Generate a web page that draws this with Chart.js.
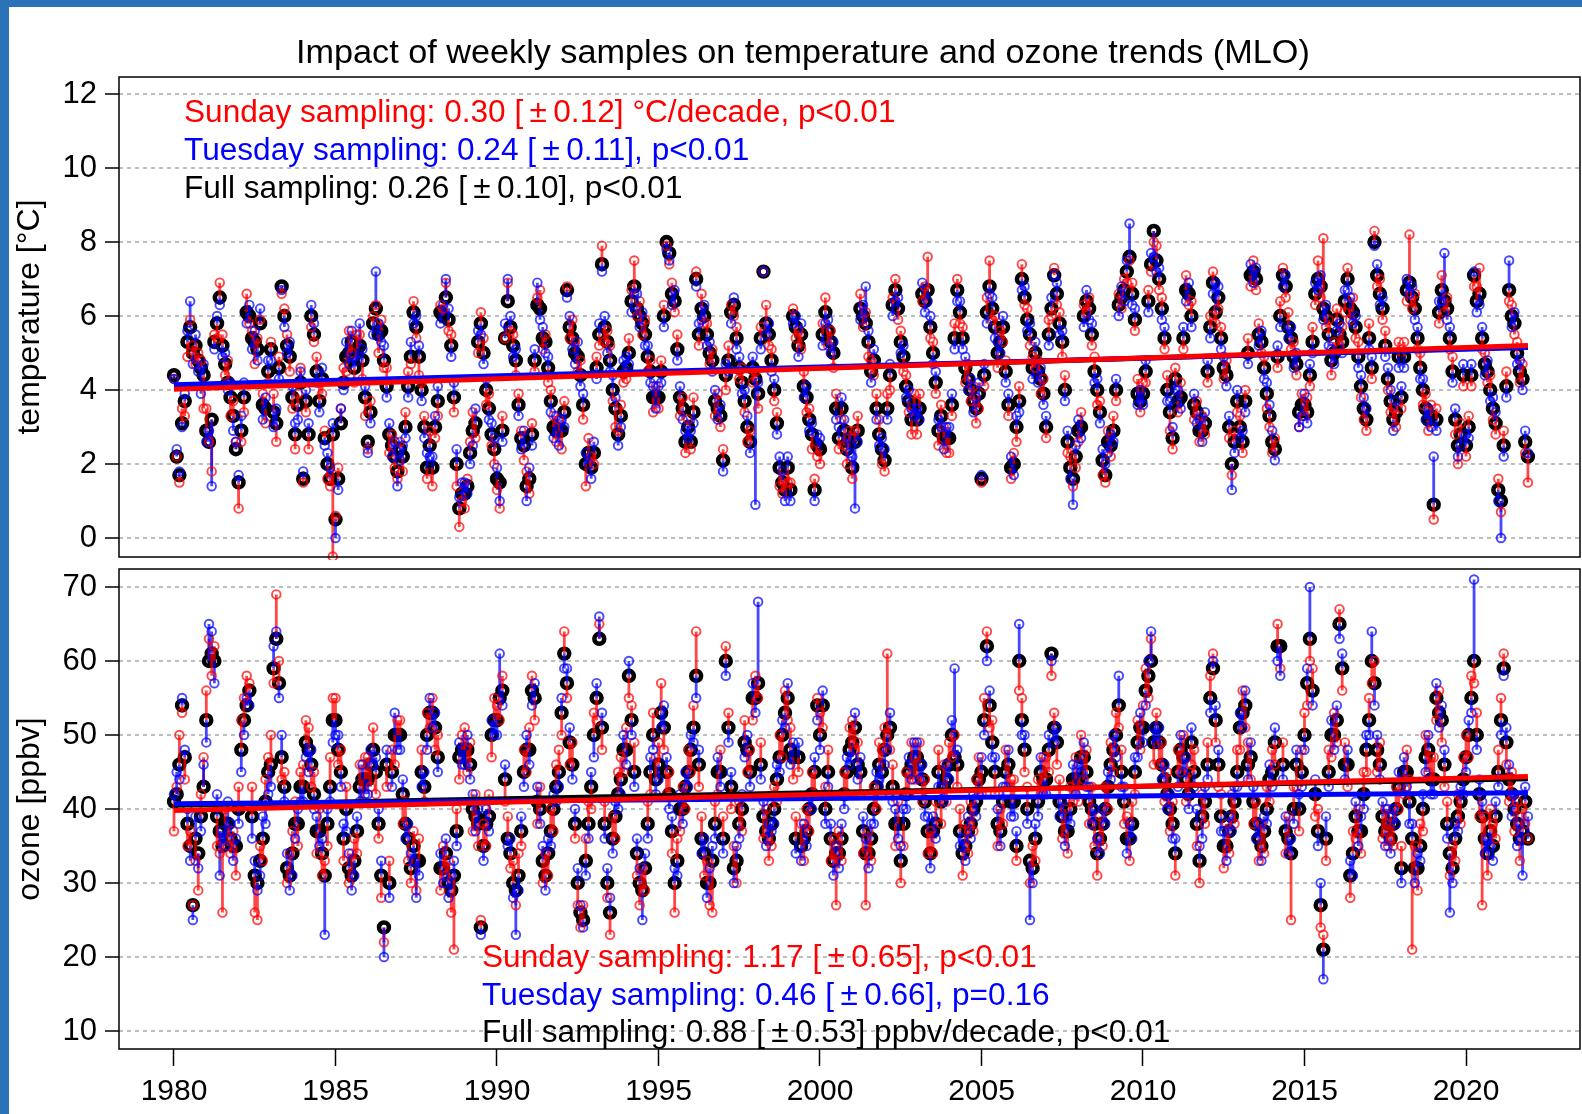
<!DOCTYPE html>
<html>
<head>
<meta charset="utf-8">
<script src="https://cdn.jsdelivr.net/npm/chart.js@4.4.0/dist/chart.umd.min.js"></script>
<style>
  body { margin: 0; background: #fff; font-family: "Liberation Sans", Arial, sans-serif; }
  #wrap { position: relative; width: 1582px; height: 1114px; overflow: hidden; background: #fff; }
  canvas { position: absolute; left: 0; }
  .bar { position: absolute; background: #2a73b9; z-index: 5; }
  .title { position: absolute; left: 296px; top: 35px; font-size: 33px; line-height: 33px; white-space: nowrap; color: #000;
           transform: scaleX(1.037); transform-origin: left top; }
  .note { position: absolute; font-size: 31px; line-height: 31px; white-space: nowrap;
          transform: scaleX(1.02); transform-origin: left top; }
</style>
</head>
<body>
<div id="wrap">
  <canvas id="cTemp" width="1582" height="560" style="top:0"></canvas>
  <canvas id="cOzone" width="1582" height="554" style="top:560px"></canvas>
  <div class="bar" style="left:0;top:0;width:1582px;height:7px"></div>
  <div class="bar" style="left:0;top:0;width:9px;height:1114px"></div>
  <div class="title">Impact of weekly samples on temperature and ozone trends (MLO)</div>
  <div class="note" style="left:184px;top:96px;color:#ff0000">Sunday sampling: 0.30 [&#8201;±&#8201;0.12] °C/decade, p&lt;0.01</div>
  <div class="note" style="left:184px;top:134px;color:#0000ff">Tuesday sampling: 0.24 [&#8201;±&#8201;0.11], p&lt;0.01</div>
  <div class="note" style="left:184px;top:172px;color:#000">Full sampling: 0.26 [&#8201;±&#8201;0.10], p&lt;0.01</div>
  <div class="note" style="left:482px;top:941px;color:#ff0000">Sunday sampling: 1.17 [&#8201;±&#8201;0.65], p&lt;0.01</div>
  <div class="note" style="left:482px;top:979px;color:#0000ff">Tuesday sampling: 0.46 [&#8201;±&#8201;0.66], p=0.16</div>
  <div class="note" style="left:482px;top:1016px;color:#000">Full sampling: 0.88 [&#8201;±&#8201;0.53] ppbv/decade, p&lt;0.01</div>
</div>
<script>
// monthly series, Jan 1980 .. Dec 2021 (one row per year)
const startYear = 1980;
const yearTicks = [1980, 1985, 1990, 1995, 2000, 2005, 2010, 2015, 2020];
const tempTicks = [0, 2, 4, 6, 8, 10, 12];
const ozoneTicks = [10, 20, 30, 40, 50, 60, 70];

// temperature [°C], full sampling
const tempFull = [
  4.4,2.2,1.7,3.1,3.7,5.3,5.7,5.0,5.2,4.8,4.6,4.4,
  2.9,2.6,3.2,5.3,5.8,6.5,5.2,4.7,4.2,3.8,3.3,2.4,
  1.5,2.9,3.8,6.1,6.0,5.4,5.3,5.1,5.8,3.6,3.5,4.5,
  5.1,3.4,3.1,4.6,6.8,6.0,5.2,4.9,3.8,2.8,3.6,4.2,
  1.6,3.7,2.8,6.0,5.5,4.5,3.7,4.3,2.7,2.0,1.6,2.8,
  0.5,1.6,3.1,4.2,4.9,5.0,5.3,4.6,5.1,5.2,4.8,3.8,
  2.6,3.4,5.8,6.2,5.5,5.6,4.8,4.1,2.8,2.5,2.2,1.8,
  2.4,2.2,3.0,4.1,4.9,6.1,5.7,4.9,4.0,3.0,1.9,2.5,
  1.9,3.0,3.7,6.1,6.0,6.5,5.9,5.2,3.8,2.0,0.8,1.2,
  1.2,1.4,2.3,2.9,3.1,5.3,5.8,5.0,4.0,3.5,2.8,2.4,
  1.6,1.5,2.9,5.4,6.4,5.7,5.2,4.8,3.6,2.7,2.5,1.4,
  1.6,2.8,4.8,6.3,6.2,5.4,5.3,4.6,3.7,3.0,2.9,2.9,
  2.9,3.4,6.7,5.7,5.4,5.0,4.9,4.4,3.6,2.0,2.3,1.9,
  2.3,4.6,5.5,7.4,5.7,5.3,4.8,4.0,3.5,2.8,3.3,4.5,
  4.6,5.0,6.4,6.8,6.2,6.0,5.8,5.5,4.9,4.5,3.8,3.8,
  3.8,4.5,6.0,8.0,7.7,6.6,6.4,5.1,3.8,3.5,2.6,3.0,
  2.6,3.4,7.0,5.5,6.2,6.0,5.5,5.0,4.8,3.7,3.5,3.3,
  2.1,4.4,4.8,6.1,6.3,5.4,4.6,4.2,3.7,3.0,2.6,4.6,
  4.3,3.9,5.4,7.2,5.8,5.5,4.8,4.0,3.1,1.9,1.5,1.3,
  1.9,1.3,6.0,5.7,5.2,5.5,4.1,3.8,3.2,2.8,1.3,2.5,
  2.4,5.5,6.1,5.6,5.3,5.0,3.5,2.7,3.5,2.9,2.4,2.6,
  1.9,2.6,2.9,6.2,6.0,5.8,5.3,4.5,4.8,3.5,2.8,2.4,
  2.1,3.5,4.4,6.3,6.7,6.2,5.3,4.9,4.1,3.7,3.2,3.6,
  3.2,3.5,6.6,6.4,6.7,5.7,5.0,4.2,2.9,3.3,2.7,2.7,
  2.7,3.6,5.4,6.7,6.1,5.4,4.6,4.3,4.0,3.7,3.5,3.9,
  1.6,4.4,6.1,6.8,6.2,5.7,5.0,5.3,5.7,4.5,3.6,1.9,
  2.0,3.0,3.7,7.0,6.5,5.9,5.5,4.6,5.0,4.5,4.3,3.9,
  3.0,5.5,6.2,7.1,6.6,5.8,5.3,4.0,2.6,1.9,1.6,2.2,
  2.9,3.0,6.0,6.4,6.2,5.5,4.5,4.0,3.4,2.1,1.7,2.6,
  2.5,2.9,4.0,6.3,6.5,6.7,7.2,7.6,6.6,5.9,3.9,3.7,
  3.9,4.5,6.4,7.4,8.3,7.5,7.0,6.2,5.4,4.0,3.4,2.7,
  4.3,3.7,3.8,5.4,6.7,6.6,6.0,3.6,3.4,2.9,2.9,3.1,
  4.5,5.7,6.9,6.1,6.5,5.4,4.6,4.4,3.0,2.0,2.6,3.7,
  3.0,2.6,3.7,5.0,7.1,7.2,7.0,5.5,5.3,4.6,3.9,3.3,
  2.6,2.4,4.9,6.0,7.1,6.8,5.7,5.4,4.9,4.7,3.4,3.6,
  3.6,3.4,4.4,5.3,6.6,7.0,6.8,6.2,6.0,5.5,4.8,5.0,
  5.9,5.5,5.3,6.4,7.0,6.2,6.1,5.7,4.9,4.1,3.5,3.2,
  5.4,4.6,8.0,7.1,6.6,6.2,5.2,4.3,3.7,3.2,3.4,4.9,
  3.8,4.9,6.7,6.9,6.5,6.2,5.4,4.6,4.0,3.5,3.2,3.3,
  0.9,3.2,6.1,6.7,6.4,6.2,5.4,4.5,3.2,2.5,2.8,4.4,
  2.5,3.0,4.4,7.1,6.4,6.6,5.4,4.7,4.5,4.0,3.5,3.1,
  1.3,1.0,2.5,4.1,6.7,6.0,5.8,5.0,4.5,4.3,2.6,2.2
];
// temperature, Sunday samples
const tempSunday = [
  4.3,2.2,1.5,3.5,3.3,4.9,5.9,5.2,4.7,5.0,4.8,3.5,
  3.5,2.6,1.8,5.5,5.4,6.9,5.5,4.4,4.8,3.3,3.7,2.6,
  0.8,2.6,3.4,6.6,5.8,5.6,4.7,5.4,5.9,3.9,3.1,4.2,
  5.3,3.9,2.6,4.9,6.6,6.2,5.5,4.5,3.5,2.4,3.9,4.6,
  1.5,3.4,2.4,5.7,5.3,4.9,4.2,3.9,2.9,1.6,1.4,-0.5,
  0.6,1.9,3.5,4.6,4.5,5.6,5.0,4.2,5.5,5.5,4.3,3.3,
  2.4,3.7,6.0,6.3,5.0,5.9,4.6,4.6,2.3,2.8,1.9,1.6,
  2.6,1.8,3.4,4.5,4.7,6.4,5.4,4.4,4.2,3.3,1.6,2.9,
  1.4,2.7,3.3,6.3,6.2,6.9,5.6,5.5,3.4,1.4,0.3,1.0,
  0.8,1.6,2.6,3.4,2.7,5.0,6.1,5.4,3.6,3.9,2.5,2.0,
  1.3,0.8,3.3,5.4,6.9,5.6,5.5,4.4,3.9,2.9,2.1,1.8,
  1.2,3.1,4.5,6.5,6.7,5.1,5.5,4.2,4.0,3.3,2.6,3.2,
  2.4,3.7,6.8,5.4,5.9,5.3,4.5,4.8,3.2,1.4,2.7,2.2,
  2.0,4.9,5.2,7.9,5.3,5.6,5.2,3.7,3.0,2.9,3.6,4.2,
  4.3,5.4,6.7,7.5,6.0,6.4,5.5,5.9,4.5,4.8,3.4,4.1,
  3.5,4.8,6.3,7.9,7.4,6.9,6.1,5.5,3.3,3.8,2.3,3.2,
  2.4,3.8,7.2,5.2,6.6,5.8,5.8,4.7,5.1,3.3,3.9,3.0,
  2.4,4.0,5.2,6.3,6.0,5.7,4.3,4.6,3.4,2.6,2.9,4.2,
  4.5,3.5,5.7,7.2,6.3,5.2,5.1,3.7,3.4,1.4,1.2,1.6,
  1.5,1.5,6.2,5.4,5.6,5.1,4.5,3.4,3.5,2.4,1.6,2.2,
  2.0,5.8,6.5,5.2,5.6,4.6,3.9,2.4,3.2,2.5,2.0,2.9,
  1.6,2.9,3.3,6.6,5.7,6.1,4.9,4.8,4.4,3.9,3.2,2.0,
  1.8,3.9,4.0,6.5,7.0,5.9,5.6,4.5,4.4,3.4,2.8,3.9,
  2.8,3.9,6.4,6.8,7.6,5.4,5.3,3.9,2.5,3.6,3.0,2.3,
  2.3,3.3,5.8,7.0,5.8,5.7,4.2,4.7,3.7,4.1,3.1,3.5,
  1.5,4.1,6.5,7.5,5.9,6.0,4.6,5.6,5.3,4.8,3.3,1.6,
  2.3,2.6,4.1,7.4,6.3,6.2,5.2,4.9,4.6,4.8,3.9,4.3,
  2.7,5.9,6.0,7.3,6.3,6.1,4.9,4.4,2.3,2.2,1.4,1.9,
  2.6,3.4,6.3,6.1,6.5,5.2,4.9,3.6,3.7,1.7,1.5,2.9,
  2.2,3.3,3.7,6.6,6.2,7.0,6.9,7.5,6.9,5.6,4.3,3.4,
  4.2,4.2,6.7,7.2,8.0,7.9,6.7,6.5,5.1,4.4,2.9,2.4,
  4.6,3.4,4.2,5.1,7.1,6.3,6.4,3.2,3.7,2.6,3.3,2.8,
  4.2,6.0,7.2,5.8,6.2,5.7,4.3,4.8,2.7,1.7,2.9,3.4,
  3.3,2.3,4.0,5.4,6.8,7.5,6.7,5.8,5.0,4.9,3.5,3.0,
  2.3,2.7,4.6,6.4,7.3,6.5,6.1,5.1,5.3,4.4,3.0,3.9,
  3.3,3.8,4.1,5.7,6.3,7.5,6.5,8.1,5.7,5.9,4.4,5.3,
  6.2,5.2,5.7,6.1,7.3,5.9,6.5,5.4,5.3,3.8,3.2,2.9,
  5.8,4.3,8.3,6.8,7.0,5.9,5.6,4.0,3.4,3.5,3.0,5.3,
  3.5,5.3,6.4,8.2,6.2,6.6,5.1,5.0,3.6,3.9,2.9,3.6,
  0.5,3.5,5.8,7.1,6.1,6.5,5.1,4.9,2.8,2.0,3.1,4.1,
  2.2,3.3,4.1,6.8,6.8,7.3,5.1,5.0,4.2,4.4,3.2,2.8,
  1.6,0.7,2.9,4.5,6.4,6.3,5.5,5.3,4.2,4.7,2.3,1.5
];
// temperature, Tuesday samples
const tempTuesday = [
  4.3,2.4,1.8,3.0,3.9,5.6,6.4,4.7,5.5,4.5,3.9,4.7,
  2.6,2.9,1.4,5.1,6.0,6.3,4.9,5.0,4.0,4.2,2.9,2.6,
  1.7,3.3,4.2,5.8,6.3,5.1,5.6,4.8,6.2,3.2,3.8,4.8,
  4.8,3.0,3.5,4.3,6.7,5.7,5.0,5.3,4.1,3.1,3.2,4.5,
  1.8,4.0,3.1,6.3,5.8,4.2,3.4,4.6,2.5,2.3,1.9,3.1,
  0.0,1.3,3.5,4.0,5.3,4.7,5.6,4.9,4.8,5.8,5.1,4.1,
  2.3,3.1,5.5,7.2,5.8,5.3,5.2,3.8,3.1,2.2,2.6,1.4,
  2.1,2.5,2.7,3.8,5.3,5.8,6.0,5.2,3.7,2.7,2.3,2.2,
  2.2,3.3,4.1,5.8,6.3,7.0,6.2,4.9,4.2,2.4,1.1,1.5,
  1.5,1.2,2.0,2.5,3.5,5.6,5.5,4.7,4.3,3.2,3.1,2.7,
  1.9,1.0,2.6,5.8,7.0,6.0,4.9,5.1,3.3,2.4,2.9,1.0,
  1.9,2.5,5.1,6.9,5.9,5.7,5.0,4.9,3.4,2.7,3.3,2.5,
  3.2,3.0,6.5,6.0,5.1,4.7,5.3,4.1,3.9,2.3,2.0,1.6,
  2.6,4.3,5.8,7.2,6.0,5.0,4.5,4.4,3.8,2.5,3.0,4.8,
  4.9,4.7,6.1,6.6,6.6,5.7,6.1,5.2,5.2,4.2,4.1,3.5,
  4.1,4.2,5.7,7.8,7.5,6.3,6.7,4.8,4.1,3.2,2.9,2.7,
  2.9,3.1,6.8,5.8,5.9,6.3,5.2,5.3,4.5,4.0,3.2,3.6,
  1.8,4.7,4.5,5.8,6.5,5.1,4.9,3.9,4.0,3.3,2.3,4.9,
  0.9,4.2,5.1,7.2,5.5,5.8,4.5,4.3,2.8,2.2,1.8,1.0,
  2.2,1.0,5.8,6.0,4.9,5.8,3.8,4.1,2.9,3.1,1.0,2.8,
  2.7,5.2,5.8,5.9,5.0,5.3,3.2,3.0,3.8,3.2,2.7,2.3,
  2.2,0.8,2.6,5.9,6.3,6.8,5.6,4.2,5.1,3.2,2.5,2.7,
  2.4,3.2,4.7,6.0,6.4,6.5,5.0,5.2,3.8,4.0,3.5,3.3,
  3.5,3.2,6.9,6.1,6.4,6.0,4.7,4.5,3.2,3.0,2.4,3.0,
  3.0,3.9,5.1,6.4,6.4,5.1,4.9,4.0,4.3,3.4,3.8,4.2,
  1.7,4.7,5.8,6.6,6.5,5.4,5.3,5.0,6.0,4.2,3.9,2.2,
  1.7,3.3,3.4,6.7,6.8,5.6,5.8,4.3,5.3,4.2,4.6,3.6,
  3.3,5.2,6.5,7.1,6.9,5.5,5.6,3.7,2.9,1.6,0.9,2.5,
  3.2,2.7,5.7,6.7,5.9,5.8,4.2,4.3,3.1,2.4,2.0,2.3,
  2.8,2.6,4.3,6.0,6.8,6.4,7.5,8.5,6.3,6.2,3.6,4.0,
  3.6,4.8,6.1,7.7,7.6,7.2,7.3,5.9,5.7,3.7,3.7,3.0,
  4.0,4.0,3.5,5.7,6.4,6.9,5.7,3.9,3.1,3.2,2.6,3.4,
  4.8,5.4,6.6,6.9,6.8,5.1,4.9,4.1,3.3,1.3,2.3,4.0,
  2.7,2.9,3.4,4.7,7.4,6.9,7.3,5.2,5.6,4.3,4.2,3.6,
  2.9,2.1,5.2,5.7,6.8,7.1,5.4,5.7,4.6,5.0,3.0,3.3,
  3.9,3.1,4.7,5.0,6.9,6.7,7.1,5.9,6.3,5.2,5.1,4.7,
  5.6,5.8,5.0,6.7,6.7,6.5,5.8,6.0,4.6,4.4,3.8,3.5,
  5.1,4.9,7.9,7.4,6.3,6.5,4.9,4.6,4.0,2.9,3.7,4.6,
  4.1,4.6,7.0,6.6,6.8,5.9,5.7,4.3,4.3,3.2,3.5,3.0,
  2.2,2.9,6.4,6.4,7.7,5.9,5.7,4.2,3.5,2.2,2.5,4.7,
  2.8,2.7,4.7,7.2,6.1,6.3,5.7,4.4,4.8,3.7,3.8,3.4,
  1.0,0.0,2.2,3.8,7.5,5.7,6.1,4.7,4.8,4.0,2.9,2.3
];

// ozone [ppbv], full sampling
const ozoneFull = [
  41,42,46,54,47,38,35,27,36,34,39,43,
  52,60,61,60,39,37,35,38,38,36,35,35,
  40,48,52,54,56,39,31,30,33,36,41,45,
  46,59,63,57,47,43,32,31,34,38,38,43,
  43,49,48,46,42,37,37,34,31,38,43,52,
  52,48,45,36,40,32,31,33,37,43,44,44,
  44,46,48,45,38,31,24,46,30,45,50,50,
  50,42,38,36,32,35,33,33,45,43,50,53,
  53,51,47,32,32,34,30,29,31,37,47,48,
  48,48,46,40,39,38,24,35,38,39,50,52,
  52,55,56,44,36,34,30,29,31,37,45,48,
  48,56,55,41,40,33,31,34,37,40,43,45,
  53,61,57,49,46,38,30,26,25,33,38,43,
  50,55,63,51,38,30,26,36,39,42,44,48,
  48,58,52,45,34,30,29,32,38,45,50,44,
  46,53,51,45,42,37,30,33,40,40,43,45,
  48,51,58,46,36,34,30,30,33,38,45,45,
  36,60,51,43,32,33,38,40,49,48,45,55,
  55,57,46,39,37,36,38,40,44,47,50,53,
  55,48,47,36,47,35,36,37,40,42,45,54,
  50,54,40,45,36,33,34,34,36,42,45,48,
  49,51,46,45,37,34,34,36,40,43,46,45,
  48,50,51,43,38,38,33,38,42,45,46,47,
  47,46,44,41,37,34,37,38,45,41,43,44,
  46,50,47,46,37,34,35,37,38,40,41,44,
  45,52,62,54,49,45,38,37,41,45,46,41,
  41,35,60,52,48,40,33,32,36,41,45,44,
  44,48,61,51,49,41,39,37,37,40,44,44,
  44,47,47,45,41,40,38,34,36,38,40,43,
  46,48,50,54,45,41,36,36,38,45,49,51,
  51,56,58,60,49,51,49,46,44,42,40,38,
  34,45,48,47,44,42,49,45,38,33,39,41,
  46,55,59,52,46,39,35,35,37,39,41,45,
  51,53,54,46,47,41,38,36,35,37,40,44,
  45,49,62,62,46,37,36,34,40,46,40,45,
  50,57,63,56,42,37,27,21,36,45,50,50,
  52,65,59,46,46,31,34,39,37,37,42,48,
  52,60,57,48,46,39,37,38,36,38,40,43,
  32,45,45,41,36,32,32,35,40,47,48,44,
  44,55,53,52,46,38,34,32,36,39,41,44,
  47,50,55,60,50,42,39,36,34,37,35,39,
  45,52,59,49,44,42,40,38,36,37,41,36
];
// ozone, Sunday samples
const ozoneSunday = [
  37,43,50,53,44,35,37,27,33,29,42,47,
  56,63,58,62,35,34,26,40,35,34,37,31,
  43,52,55,58,57,43,26,25,35,33,44,47,
  50,57,69,60,44,45,30,34,37,41,35,45,
  46,52,51,43,45,34,40,31,33,35,47,55,
  55,46,48,33,43,30,34,36,34,46,41,47,
  47,43,51,42,36,28,22,43,33,48,46,52,
  52,38,41,33,30,37,29,36,48,41,53,51,
  55,48,50,29,35,31,33,26,21,40,44,50,
  51,45,49,37,42,35,25,38,35,42,47,55,
  54,52,58,41,39,32,33,27,34,35,48,45,
  51,58,52,38,43,30,34,31,40,37,46,48,
  50,64,55,46,49,36,27,24,27,36,41,40,
  53,52,65,48,41,28,23,39,36,45,47,45,
  51,55,54,49,31,27,32,29,41,42,53,47,
  49,57,48,42,45,34,26,36,37,43,40,48,
  45,54,64,43,39,31,33,27,26,41,42,48,
  39,62,53,40,35,30,41,37,52,45,48,52,
  58,55,49,36,40,33,35,43,41,50,47,56,
  52,51,44,39,45,38,33,40,37,45,42,55,
  53,51,43,48,33,36,27,37,33,45,42,51,
  52,48,49,42,34,27,37,33,43,40,49,48,
  51,61,48,46,35,41,30,35,45,42,49,44,
  44,49,41,44,34,37,34,41,48,38,46,41,
  49,47,50,43,40,31,38,34,41,37,44,47,
  42,55,64,51,52,42,35,40,38,48,43,44,
  44,33,56,55,45,43,30,35,33,44,42,47,
  47,45,58,53,46,44,36,40,34,43,41,47,
  41,50,44,48,38,43,35,31,39,35,43,40,
  49,45,53,51,48,38,39,33,41,42,52,48,
  54,59,55,63,46,53,46,49,41,45,37,41,
  31,48,45,50,41,45,46,48,35,30,42,38,
  49,58,61,49,43,42,32,38,34,42,38,48,
  48,56,51,49,44,38,41,33,38,34,43,41,
  48,46,65,59,49,34,39,25,43,43,37,48,
  53,54,60,59,39,40,24,23,33,48,47,53,
  49,67,56,49,43,28,37,36,40,34,45,45,
  55,57,60,45,49,36,40,35,39,35,43,40,
  35,42,48,44,21,35,29,38,37,50,45,47,
  47,52,56,49,43,41,31,35,33,42,38,47,
  50,47,58,57,53,39,27,39,31,40,38,36,
  48,55,61,46,41,45,37,41,33,40,38,36
];
// ozone, Tuesday samples
const ozoneTuesday = [
  42,45,44,55,48,40,33,25,39,32,37,46,
  49,65,64,57,42,31,37,35,41,38,33,36,
  38,45,50,55,54,36,33,29,31,39,38,42,
  43,62,64,55,50,41,34,29,31,36,40,41,
  41,47,45,48,40,39,35,36,23,40,41,49,
  50,50,43,38,37,34,29,31,39,41,46,42,
  42,48,46,47,40,33,20,48,28,43,53,48,
  48,44,36,38,34,33,28,31,43,45,48,55,
  51,53,45,34,30,36,28,31,33,35,49,46,
  46,50,44,42,37,40,23,33,40,37,52,50,
  50,61,54,46,35,36,28,23,29,39,43,50,
  46,54,57,43,38,35,29,36,35,42,41,43,
  55,59,59,51,44,40,32,27,24,31,36,45,
  47,57,66,53,36,32,28,34,41,40,42,50,
  46,60,50,43,36,32,25,34,36,47,48,42,
  44,51,54,47,40,39,32,31,42,38,45,43,
  50,49,55,48,34,36,28,32,35,36,47,43,
  34,58,49,45,30,35,36,42,47,50,43,57,
  53,68,44,41,35,38,37,38,46,45,52,51,
  57,46,49,34,49,33,38,35,42,40,47,52,
  48,56,38,43,38,31,35,32,38,40,47,46,
  47,53,44,47,39,36,32,38,38,45,44,42,
  46,48,53,41,40,36,35,40,40,47,44,49,
  49,44,46,39,39,32,39,36,43,43,41,46,
  44,52,59,48,35,36,33,39,36,42,39,42,
  47,50,60,56,47,47,40,35,43,43,48,39,
  39,37,65,50,50,38,25,30,38,39,47,42,
  42,50,60,49,51,39,41,35,39,38,46,42,
  46,45,49,43,43,38,40,36,34,40,38,45,
  44,50,47,58,43,43,34,38,36,47,47,53,
  49,54,60,64,51,49,51,44,46,40,42,36,
  36,43,50,45,47,40,51,43,40,35,36,43,
  44,53,60,54,48,37,37,33,39,37,43,43,
  53,51,56,44,49,43,36,38,33,39,38,46,
  43,51,60,58,44,39,34,36,38,48,42,43,
  48,59,70,54,44,35,30,17,39,43,52,48,
  54,63,61,44,48,33,31,41,35,39,40,50,
  50,64,54,50,44,41,35,40,34,40,38,45,
  30,47,43,38,38,30,34,33,42,45,50,42,
  42,57,51,54,48,36,26,30,38,37,43,42,
  45,52,53,71,48,44,41,34,36,35,33,41,
  43,50,58,51,46,39,42,35,38,31,43,39
];

// fitted trend lines: value at first and last month
const trendEnds = [1980, 2021.917];
const tempTrendFull = [4.08, 5.17];
const tempTrendSunday = [4.02, 5.20];
const tempTrendTuesday = [4.14, 5.15];
const ozoneTrendFull = [40.5, 44.1];
const ozoneTrendSunday = [39.8, 44.4];
const ozoneTrendTuesday = [40.7, 42.2];

const monthX = tempFull.map((v, i) => startYear + i / 12);

Chart.defaults.font.family = "'Liberation Sans', Arial, sans-serif";
Chart.defaults.color = "#000";

const RED = "rgba(255,0,0,0.72)";
const BLUE = "rgba(0,0,255,0.72)";

// box round the plot area
const frame = {
  id: "frame",
  afterDraw(chart) {
    const a = chart.chartArea;
    const c = chart.ctx;
    c.save();
    c.strokeStyle = "#000";
    c.lineWidth = 1.5;
    c.strokeRect(a.left, a.top, a.right - a.left, a.bottom - a.top);
    c.restore();
  }
};

function points(arr) {
  return arr.map((v, i) => ({ x: monthX[i], y: v }));
}

function sticks(full, other) {
  const d = [];
  for (let i = 0; i < full.length; i++) {
    d.push({ x: monthX[i], y: full[i] }, { x: monthX[i], y: other[i] }, { x: monthX[i], y: null });
  }
  return d;
}

function trend(ends, color, order) {
  return {
    data: [{ x: trendEnds[0], y: ends[0] }, { x: trendEnds[1], y: ends[1] }],
    borderColor: color, borderWidth: 5, pointRadius: 0, order: order, borderCapStyle: "butt"
  };
}

function panelData(full, sun, tue, trFull, trSun, trTue) {
  return {
    datasets: [
      { data: points(full), showLine: false, pointRadius: 4.9, pointBorderWidth: 4.6,
        pointBorderColor: "#000", pointBackgroundColor: "rgba(0,0,0,0)", order: 9, clip: false },
      { data: sticks(full, sun), borderColor: RED, borderWidth: 2.8, pointRadius: 0, order: 8, clip: false },
      { data: sticks(full, tue), borderColor: BLUE, borderWidth: 2.8, pointRadius: 0, order: 7, clip: false },
      { data: points(sun), showLine: false, pointRadius: 4.3, pointBorderWidth: 1.9,
        pointBorderColor: RED, pointBackgroundColor: "rgba(0,0,0,0)", order: 6, clip: false },
      { data: points(tue), showLine: false, pointRadius: 4.3, pointBorderWidth: 1.9,
        pointBorderColor: BLUE, pointBackgroundColor: "rgba(0,0,0,0)", order: 5, clip: false },
      trend(trFull, "#000", 3),
      trend(trTue, "#0000ff", 2),
      trend(trSun, "#ff0000", 1)
    ]
  };
}

// keep the axis boxes at fixed sizes, no extra room for end labels
function noPad(s) {
  s.paddingTop = 0; s.paddingBottom = 0; s.paddingLeft = 0; s.paddingRight = 0;
}

function yAxis(min, max, ticks, label) {
  return {
    type: "linear", min: min, max: max,
    afterFit: (s) => { s.width = 119; noPad(s); },
    afterBuildTicks: (s) => { s.ticks = ticks.map(v => ({ value: v })); },
    ticks: { font: { size: 31 }, color: "#000", padding: 8, callback: v => String(v) },
    grid: { color: "#bdbdbd", lineWidth: 2, tickColor: "#000", tickLength: 14, tickWidth: 1.5, tickBorderDash: [] },
    border: { display: false, dash: [4, 4] },
    title: { display: true, text: label, font: { size: 32 }, color: "#000", padding: { top: 11, bottom: 0 } }
  };
}

const xMin = 1980 - 55 / 32.3;
const xMax = 1980 + 1406 / 32.3;

new Chart(document.getElementById("cTemp"), {
  type: "line",
  data: panelData(tempFull, tempSunday, tempTuesday, tempTrendFull, tempTrendSunday, tempTrendTuesday),
  options: {
    responsive: false, animation: false, events: [],
    layout: { autoPadding: false, padding: { top: 77, bottom: 3, left: 0, right: 2 } },
    elements: { line: { tension: 0 } },
    plugins: { legend: { display: false }, tooltip: { enabled: false } },
    scales: {
      x: { type: "linear", min: xMin, max: xMax, display: false },
      y: yAxis(-0.514, 12.46, tempTicks, "temperature [°C]")
    }
  },
  plugins: [frame]
});

new Chart(document.getElementById("cOzone"), {
  type: "line",
  data: panelData(ozoneFull, ozoneSunday, ozoneTuesday, ozoneTrendFull, ozoneTrendSunday, ozoneTrendTuesday),
  options: {
    responsive: false, animation: false, events: [],
    layout: { autoPadding: false, padding: { top: 9, bottom: 0, left: 0, right: 2 } },
    elements: { line: { tension: 0 } },
    plugins: { legend: { display: false }, tooltip: { enabled: false } },
    scales: {
      x: {
        type: "linear", min: xMin, max: xMax,
        afterFit: (s) => { s.height = 65; noPad(s); },
        afterBuildTicks: (s) => { s.ticks = yearTicks.map(v => ({ value: v })); },
        ticks: { font: { size: 30 }, color: "#000", padding: 8, maxRotation: 0, autoSkip: false, callback: v => String(v) },
        grid: { drawOnChartArea: false, tickColor: "#000", tickLength: 17, tickWidth: 1.5 },
        border: { display: false }
      },
      y: yAxis(7.57, 72.43, ozoneTicks, "ozone [ppbv]")
    }
  },
  plugins: [frame]
});
</script>
</body>
</html>
